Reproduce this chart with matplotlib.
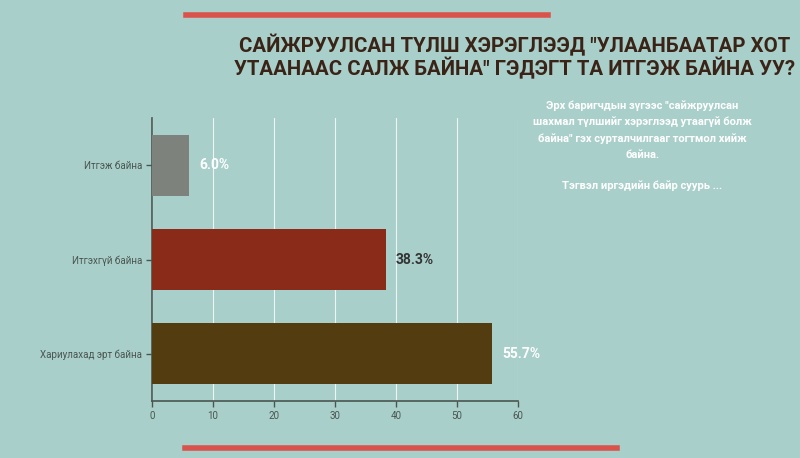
import matplotlib.pyplot as plt

# Data
categories = ['Итгэж байна', 'Итгэхгүй байна', 'Хариулахад эрт байна']
values = [6.0, 38.3, 55.7]
bar_colors = ['#7d827d', '#8a2b19', '#533d10']
label_colors = ['white', '#333333', 'white']
xticks = [0, 10, 20, 30, 40, 50, 60]

title_lines = ['САЙЖРУУЛСАН ТҮЛШ ХЭРЭГЛЭЭД "УЛААНБААТАР ХОТ',
               'УТААНААС САЛЖ БАЙНА" ГЭДЭГТ ТА ИТГЭЖ БАЙНА УУ?']
note_text = ('Эрх баригчдын зүгээс "сайжруулсан\n'
             'шахмал түлшийг хэрэглээд утаагүй болж\n'
             'байна" гэх сурталчилгааг тогтмол хийж\n'
             'байна.')
note_text2 = 'Тэгвэл иргэдийн байр суурь ...'

bg = '#a9cfca'
plt.rcParams['font.family'] = ['Roboto', 'DejaVu Sans']

fig = plt.figure(figsize=(8, 4.58), dpi=100, facecolor=bg)
ax = fig.add_axes([0.19, 0.1245, 0.4575, 0.6175], facecolor=bg)

ypos = list(range(len(categories)))
ax.barh(ypos, values, height=0.65, color=bar_colors, zorder=3)
for y, v, c in zip(ypos, values, label_colors):
    ax.text(v + 1.7, y, f'{v:.1f}%', va='center', ha='left', color=c,
            fontsize=10, fontweight='bold', zorder=4)

ax.set_xlim(0, 60)
ax.set_ylim(2.5, -0.5)
ax.set_yticks(ypos)
ax.set_yticklabels(categories, fontsize=7, color='#333333')
ax.set_xticks(xticks)
ax.set_xticklabels([str(t) for t in xticks], fontsize=7, color='#333333')
ax.grid(axis='x', color='white', linewidth=0.8, alpha=0.8, zorder=0)
for s in ['top', 'right']:
    ax.spines[s].set_visible(False)
for s in ['left', 'bottom']:
    ax.spines[s].set_color('#4a5550')
    ax.spines[s].set_linewidth(1.2)
ax.tick_params(colors='#4a5550', length=4, width=1)
ax.tick_params(axis='y', pad=3)

# Title
fig.text(0.9875, 1 - 45 / 458, title_lines[0], ha='right', va='center',
         fontsize=14.7, fontweight='bold', color='#3a2418')
fig.text(0.994, 1 - 68 / 458, title_lines[1], ha='right', va='center',
         fontsize=14.7, fontweight='bold', color='#3a2418')

# Side note
fig.text(0.803, 1 - 100 / 458, note_text, ha='center', va='top',
         fontsize=8, fontweight='bold', color='white', linespacing=1.7)
fig.text(0.803, 1 - 186 / 458, note_text2, ha='center', va='center',
         fontsize=8, fontweight='bold', color='white')

# Red rules
fig.add_artist(plt.Line2D([186 / 800, 548 / 800], [1 - 14.5 / 458] * 2,
                          color='#d9534c', linewidth=4, transform=fig.transFigure))
fig.add_artist(plt.Line2D([185 / 800, 617 / 800], [1 - 448 / 458] * 2,
                          color='#d9534c', linewidth=4, transform=fig.transFigure))

fig.savefig('out.png', dpi=100, facecolor=bg)
